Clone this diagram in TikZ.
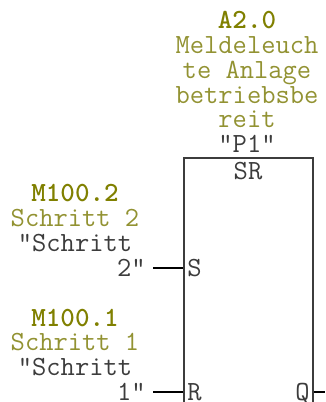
\documentclass[tikz,border=0pt]{standalone}
\usepackage{fontspec}
\definecolor{addrolive}{RGB}{128,128,0}
\definecolor{commentolive}{RGB}{146,146,50}
\definecolor{symbolgrey}{RGB}{60,60,60}
\tikzset{
  plctext/.style={inner sep=0pt,anchor=base,font=\ttfamily\fontsize{20.8}{24}\selectfont,text=symbolgrey},
  addrtext/.style={plctext,font=\ttfamily\bfseries\fontsize{20.8}{24}\selectfont,text=addrolive},
  commenttext/.style={plctext,text=commentolive},
  srbox/.style={draw=symbolgrey,line width=1.2pt,inner sep=0pt},
  pinline/.style={draw=black,line width=1.4pt}
}
\begin{document}
\begin{tikzpicture}[x=0.75pt,y=0.75pt,yscale=-1,xscale=1]
\useasboundingbox (0,0) rectangle (325,402);

% SR box, runs past the lower edge
\node [srbox,anchor=north west,minimum width=96.75pt,minimum height=210pt] (box) at (183,157) {};

% Text Node
\node [addrtext] (outaddr) at (247,29) {A2.0};
\node [commenttext] (outc1) at (247,53.5) {Meldeleuch};
\node [commenttext] (outc2) at (247,78.5) {te Anlage};
\node [commenttext] (outc3) at (247,103.5) {betriebsbe};
\node [commenttext] (outc4) at (247,128) {reit};
\node [plctext] (outsym) at (247,153) {"P1"};
\node [plctext] (boxname) at (248,179.5) {SR};

% Text Node
\node [addrtext] (saddr) at (75,202) {M100.2};
\node [commenttext] (scomment) at (75,226.5) {Schritt 2};
\node [plctext] (ssym) at (75,251.5) {"Schritt};
\node [plctext,anchor=base east] (sval) at (146,276.5) {2"};
\node [plctext,anchor=base west] (spin) at (187,276.5) {S};

% Text Node
\node [addrtext] (raddr) at (75,326) {M100.1};
\node [commenttext] (rcomment) at (75,350.5) {Schritt 1};
\node [plctext] (rsym) at (75,375) {"Schritt};
\node [plctext,anchor=base east] (rval) at (146,400) {1"};
\node [plctext,anchor=base west] (rpin) at (187,400) {R};
\node [plctext,anchor=base east] (qpin) at (310,400) {Q};

%Straight Lines
\coordinate (sstart) at (153,268);
\coordinate (rstart) at (153,392);
\coordinate (qend) at (325,392);
\draw [pinline] (sstart) -- (sstart -| box.west);
\draw [pinline] (rstart) -- (rstart -| box.west);
\draw [pinline] (qend -| box.east) -- (qend);

\end{tikzpicture}
\end{document}
